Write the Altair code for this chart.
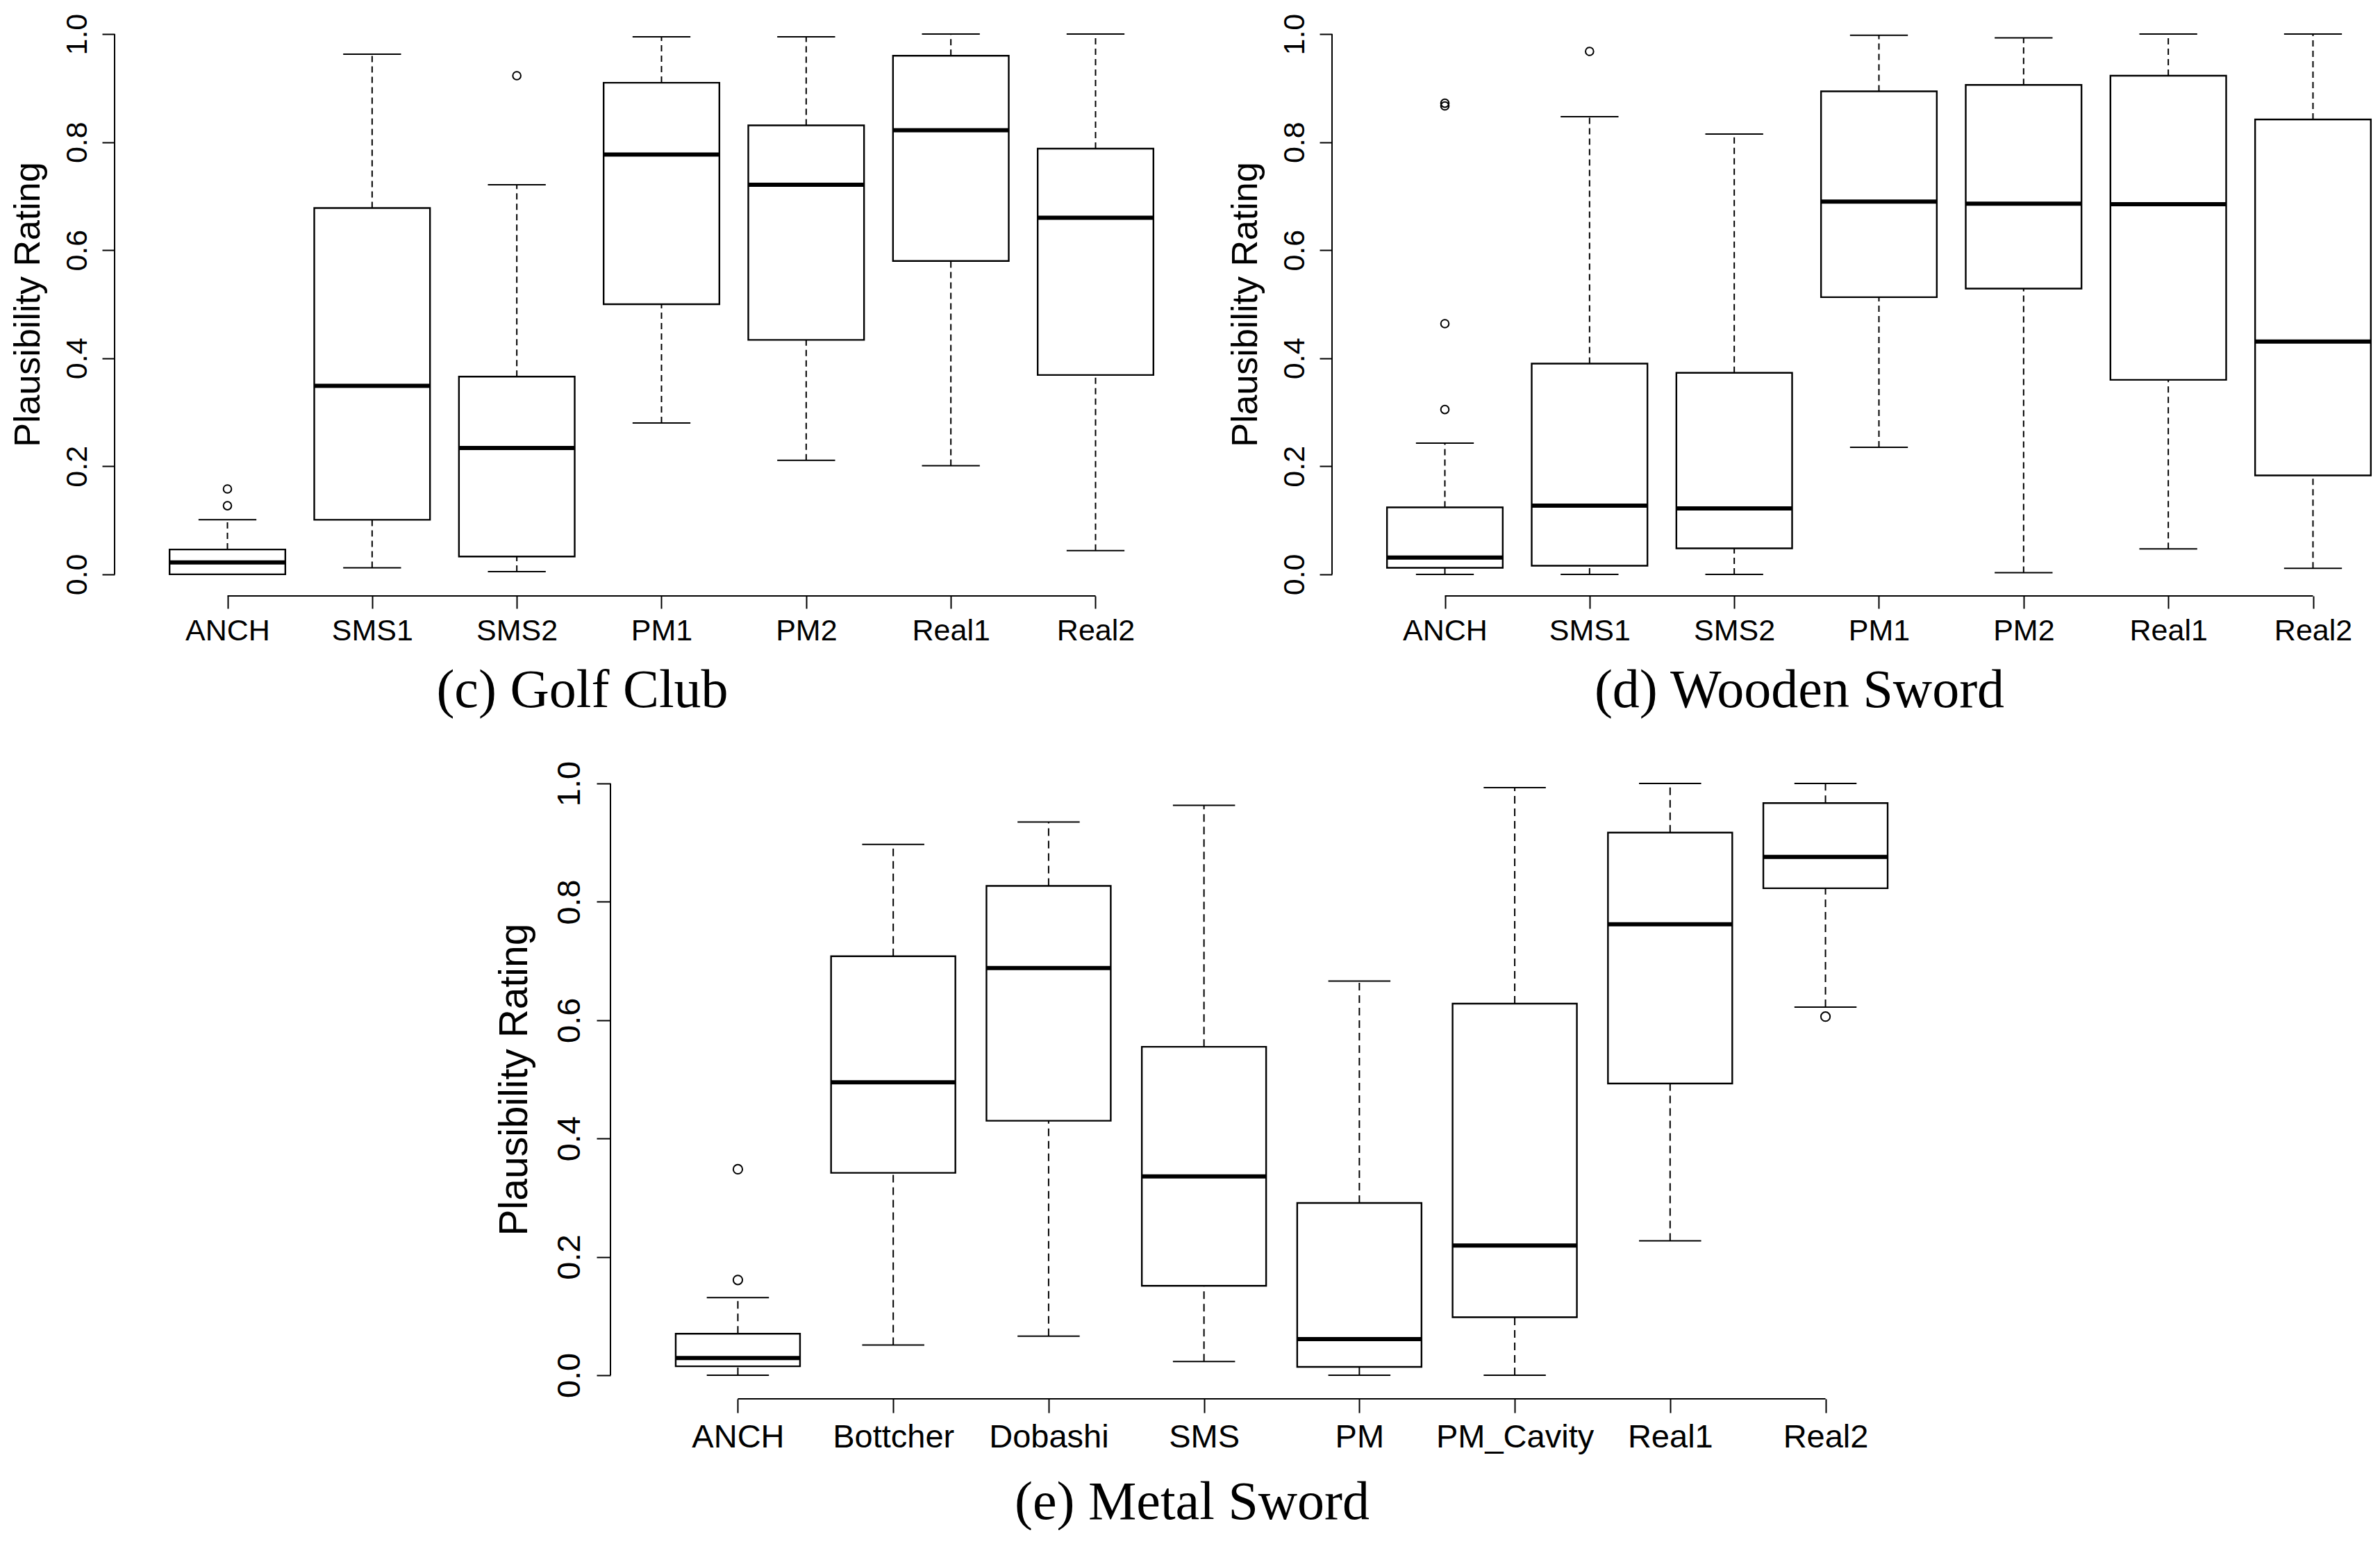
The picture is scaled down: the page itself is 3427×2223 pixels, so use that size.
import altair as alt
import pandas as pd

# ---------------- data: panel (c) Golf Club ----------------
c_names = ["ANCH", "SMS1", "SMS2", "PM1", "PM2", "Real1", "Real2"]
c_lo = [0.0, 0.012, 0.005, 0.280, 0.211, 0.201, 0.044]
c_q1 = [0.0, 0.101, 0.033, 0.500, 0.434, 0.580, 0.369]
c_med = [0.022, 0.349, 0.234, 0.777, 0.721, 0.822, 0.660]
c_q3 = [0.046, 0.678, 0.366, 0.910, 0.831, 0.960, 0.788]
c_hi = [0.101, 0.963, 0.721, 0.995, 0.995, 1.0, 1.0]
c_out_cat = ["ANCH", "ANCH", "SMS2"]
c_out_val = [0.127, 0.158, 0.923]

# ---------------- data: panel (d) Wooden Sword ----------------
d_names = ["ANCH", "SMS1", "SMS2", "PM1", "PM2", "Real1", "Real2"]
d_lo = [0.0, 0.0, 0.0, 0.235, 0.003, 0.047, 0.011]
d_q1 = [0.012, 0.016, 0.048, 0.513, 0.529, 0.360, 0.183]
d_med = [0.031, 0.127, 0.122, 0.690, 0.686, 0.685, 0.431]
d_q3 = [0.124, 0.390, 0.373, 0.894, 0.906, 0.923, 0.842]
d_hi = [0.243, 0.847, 0.815, 0.998, 0.993, 1.0, 1.0]
d_out_cat = ["ANCH", "ANCH", "ANCH", "ANCH", "SMS1"]
d_out_val = [0.305, 0.464, 0.867, 0.872, 0.968]

# ---------------- data: panel (e) Metal Sword ----------------
e_names = ["ANCH", "Bottcher", "Dobashi", "SMS", "PM", "PM_Cavity", "Real1", "Real2"]
e_lo = [0.0, 0.051, 0.066, 0.023, 0.0, 0.0, 0.227, 0.622]
e_q1 = [0.015, 0.342, 0.430, 0.151, 0.014, 0.098, 0.493, 0.823]
e_med = [0.029, 0.495, 0.688, 0.336, 0.061, 0.219, 0.762, 0.876]
e_q3 = [0.070, 0.708, 0.827, 0.555, 0.291, 0.628, 0.917, 0.967]
e_hi = [0.131, 0.897, 0.935, 0.963, 0.666, 0.993, 1.0, 1.0]
e_out_cat = ["ANCH", "ANCH", "Real2"]
e_out_val = [0.161, 0.348, 0.606]

y_ticks = [0.0, 0.2, 0.4, 0.6, 0.8, 1.0]
y_title = "Plausibility Rating"

SANS = "Liberation Sans"
SERIF = "Liberation Serif"


def panel(names, lo, q1, med, q3, hi, out_cat, out_val, caption,
          width, height, xdom, fs_lab, fs_title, tick, pad_y, pad_x,
          title_x, cap_dx, cap_offset, pt_size, dash):
    n = len(names)
    df = pd.DataFrame({"idx": list(range(1, n + 1)), "name": names,
                       "lo": lo, "q1": q1, "med": med, "q3": q3, "hi": hi})
    pos = {nm: i + 1 for i, nm in enumerate(names)}
    dfo = pd.DataFrame({"idx": [pos[c] for c in out_cat], "val": out_val})
    dfx = pd.DataFrame({"first": [1], "last": [n]})
    dfy = pd.DataFrame({"a": [y_ticks[0]], "b": [y_ticks[-1]]})

    arr = "[" + ",".join("'%s'" % s for s in names) + "]"
    xscale = alt.Scale(domain=xdom, nice=False, zero=False)
    yscale = alt.Scale(domain=[-0.04, 1.04], nice=False, zero=False)
    xaxis = alt.Axis(values=list(range(1, n + 1)), labelExpr=arr + "[datum.value - 1]",
                     domain=False, grid=False, tickSize=tick, tickWidth=2,
                     tickColor="black", labelFont=SANS, labelFontSize=fs_lab,
                     labelColor="black", labelPadding=pad_x, labelBaseline="top",
                     labelAngle=0, labelFlush=False, labelOverlap=False,
                     labelBound=False, labelLimit=0, title=None)
    yaxis = alt.Axis(values=y_ticks, format=".1f", domain=False, grid=False,
                     tickSize=tick, tickWidth=2, tickColor="black",
                     labelFont=SANS, labelFontSize=fs_lab, labelColor="black",
                     labelAngle=270, labelAlign="center", labelBaseline="alphabetic",
                     labelPadding=pad_y, labelFlush=False, labelOverlap=False,
                     labelBound=False, labelLimit=0,
                     title=y_title, titleFont=SANS, titleFontSize=fs_title,
                     titleFontWeight="normal", titleColor="black", titleAngle=270,
                     titleAlign="center", titleBaseline="alphabetic",
                     titleX=title_x, titleY=height / 2, titleLimit=0)

    base = alt.Chart(df).transform_calculate(
        left="datum.idx - 0.4", right="datum.idx + 0.4",
        sl="datum.idx - 0.2", sr="datum.idx + 0.2")

    X = lambda f: alt.X(f, type="quantitative", scale=xscale, axis=xaxis)
    Y = lambda f: alt.Y(f, type="quantitative", scale=yscale, axis=yaxis)

    wh_up = base.mark_rule(color="black", strokeWidth=2, strokeDash=dash).encode(
        x=X("idx"), y=Y("q3"), y2="hi")
    wh_dn = base.mark_rule(color="black", strokeWidth=2, strokeDash=dash).encode(
        x=X("idx"), y=Y("lo"), y2="q1")
    box = base.mark_rect(fill="white", stroke="black", strokeWidth=2.4).encode(
        x=X("left"), x2="right", y=Y("q1"), y2="q3")
    medl = base.mark_rule(color="black", strokeWidth=6, strokeCap="butt").encode(
        x=X("left"), x2="right", y=Y("med"))
    st_up = base.mark_rule(color="black", strokeWidth=2).encode(
        x=X("sl"), x2="sr", y=Y("hi"))
    st_dn = base.mark_rule(color="black", strokeWidth=2).encode(
        x=X("sl"), x2="sr", y=Y("lo"))
    outl = alt.Chart(dfo).mark_point(shape="circle", filled=False, color="black",
                                     strokeWidth=2, size=pt_size, opacity=1).encode(
        x=X("idx"), y=Y("val"))
    xline = alt.Chart(dfx).mark_rule(color="black", strokeWidth=2).encode(
        x=X("first"), x2="last", y=alt.value(height))
    yline = alt.Chart(dfy).mark_rule(color="black", strokeWidth=2).encode(
        y=Y("a"), y2="b", x=alt.value(0))

    return alt.layer(wh_up, wh_dn, box, medl, st_up, st_dn, outl, xline, yline).properties(
        width=width, height=height,
        title=alt.TitleParams(caption, orient="bottom", anchor="middle",
                              font=SERIF, fontSize=78, fontWeight="normal",
                              color="black", baseline="alphabetic",
                              offset=cap_offset, dx=cap_dx))


c = panel(c_names, c_lo, c_q1, c_med, c_q3, c_hi, c_out_cat, c_out_val,
          "(c) Golf Club", width=1575, height=840, xdom=[0.22, 7.78],
          fs_lab=43, fs_title=52, tick=18, pad_y=23, pad_x=11,
          title_x=-109, cap_dx=-114, cap_offset=88, pt_size=135, dash=[9, 6])
d = panel(d_names, d_lo, d_q1, d_med, d_q3, d_hi, d_out_cat, d_out_val,
          "(d) Wooden Sword", width=1500, height=840, xdom=[0.22, 7.42],
          fs_lab=43, fs_title=52, tick=18, pad_y=23, pad_x=11,
          title_x=-109, cap_dx=-77, cap_offset=88, pt_size=135, dash=[9, 6])
e = panel(e_names, e_lo, e_q1, e_med, e_q3, e_hi, e_out_cat, e_out_val,
          "(e) Metal Sword", width=1933, height=920, xdom=[0.18, 8.82],
          fs_lab=47, fs_title=57, tick=20, pad_y=25, pad_x=12,
          title_x=-121, cap_dx=-129, cap_offset=95, pt_size=175, dash=[11, 7])

spacer = alt.Chart(pd.DataFrame({"v": [0]})).mark_point(opacity=0).encode(
    x=alt.X("v:Q", axis=None), y=alt.Y("v:Q", axis=None)).properties(width=714, height=10)

row1 = alt.hconcat(c, d, spacing=178, bounds="flush")
row2 = alt.hconcat(spacer, e, spacing=0, bounds="flush")
# with flush bounds the nested first row counts as zero height, so the
# spacing is the full offset from the top of (c)/(d) plots to the top of (e)
chart = alt.vconcat(row1, row2, spacing=1076, bounds="flush").properties(
    padding={"left": 6, "top": 10, "right": 0, "bottom": 0},
    background="white"
).configure_view(stroke=None)

chart.save("out.html", embed_options={"renderer": "svg", "actions": False})
